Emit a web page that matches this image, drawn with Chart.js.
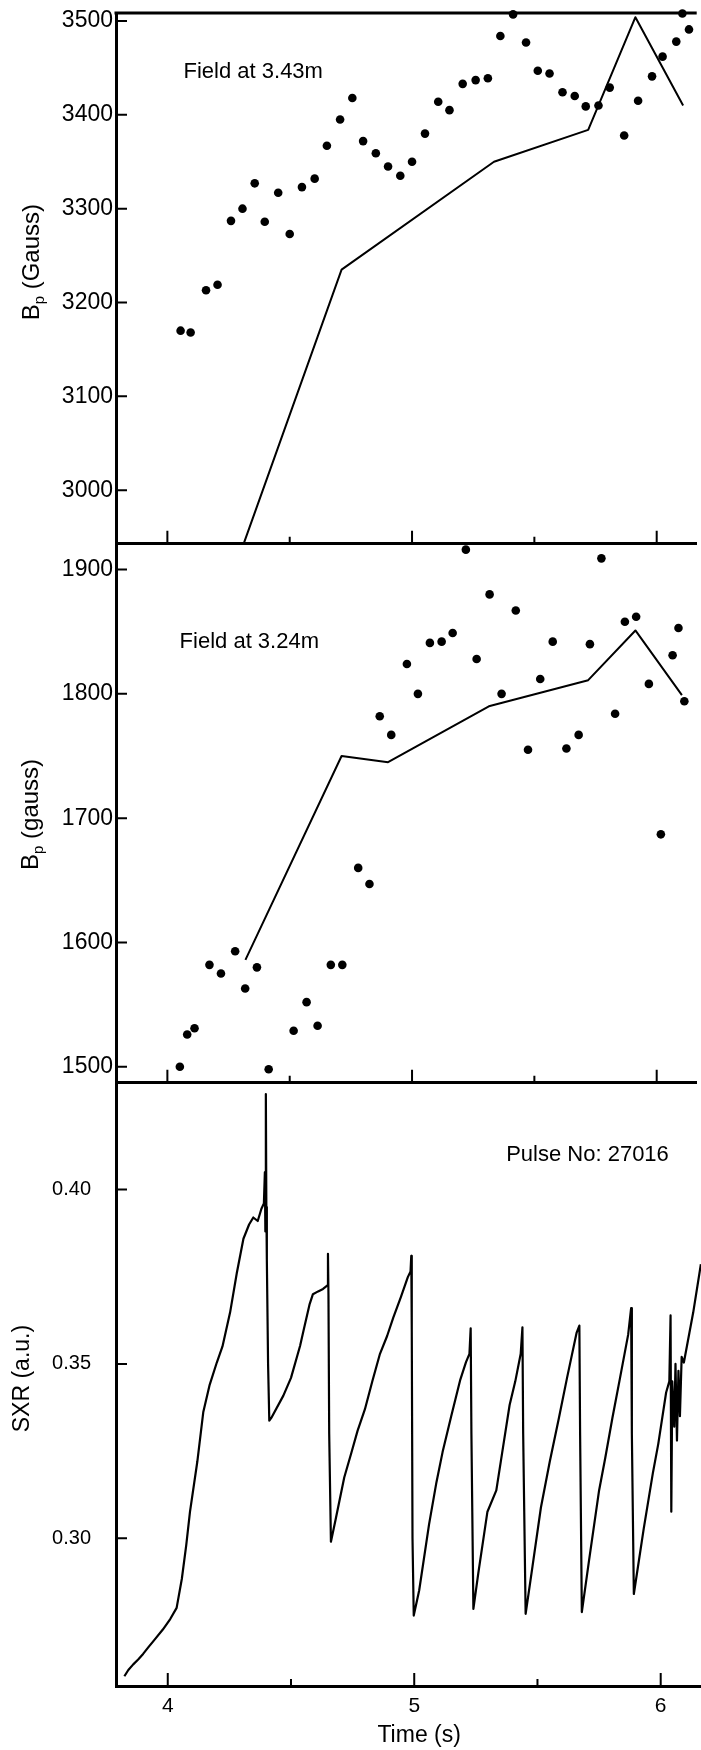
<!DOCTYPE html>
<html>
<head>
<meta charset="utf-8">
<title>Pulse 27016 - Bp and SXR</title>
<script src="https://cdn.jsdelivr.net/npm/chart.js@4.4.1/dist/chart.umd.min.js"></script>
<style>
  html, body { margin: 0; padding: 0; background: #fff; }
  #wrap { position: relative; width: 701px; height: 1750px; overflow: hidden; }
  #wrap canvas { position: absolute; left: 0; }
</style>
</head>
<body>
<div id="wrap">
  <canvas id="chartTop" width="701" height="548" style="top:0px"></canvas>
  <canvas id="chartMid" width="701" height="545" style="top:542px"></canvas>
  <canvas id="chartSxr" width="701" height="669" style="top:1081px"></canvas>
</div>
<script>
// Field at 3.43m - line (fit) and dots (measured)
const topLineTime = [4.312, 4.712, 5.335, 5.720, 5.913, 6.108];
const topLineField = [2943, 3235, 3350, 3384, 3504, 3410];
const topDotTime = [4.054, 4.095, 4.158, 4.205, 4.260, 4.307, 4.357, 4.398, 4.453, 4.500, 4.550, 4.602, 4.652, 4.706, 4.756,
  4.800, 4.852, 4.902, 4.952, 5.000, 5.053, 5.107, 5.153, 5.207, 5.260, 5.310, 5.361, 5.413, 5.466, 5.514,
  5.562, 5.615, 5.665, 5.710, 5.762, 5.808, 5.867, 5.924, 5.981, 6.024, 6.080, 6.105, 6.132];
const topDotField = [3170, 3168, 3213, 3219, 3287, 3300, 3327, 3286, 3317, 3273, 3323, 3332, 3367, 3395, 3418,
  3372, 3359, 3345, 3335, 3350, 3380, 3414, 3405, 3433, 3437, 3439, 3484, 3507, 3477, 3447,
  3444, 3424, 3420, 3409, 3410, 3429, 3378, 3415, 3441, 3462, 3478, 3508, 3491];

// Field at 3.24m
const midLineTime = [4.319, 4.712, 4.902, 5.314, 5.720, 5.913, 6.103];
const midLineField = [1586, 1750, 1745, 1790, 1811, 1851, 1799];
const midDotTime = [4.051, 4.081, 4.111, 4.172, 4.219, 4.277, 4.318, 4.366, 4.414, 4.516, 4.569, 4.614, 4.668, 4.715, 4.780,
  4.826, 4.868, 4.915, 4.979, 5.024, 5.073, 5.121, 5.166, 5.220, 5.264, 5.317, 5.366, 5.424, 5.474, 5.524,
  5.575, 5.631, 5.681, 5.727, 5.774, 5.830, 5.870, 5.916, 5.968, 6.017, 6.065, 6.089, 6.113];
const midDotField = [1500, 1526, 1531, 1582, 1575, 1593, 1563, 1580, 1498, 1529, 1552, 1533, 1582, 1582, 1660,
  1647, 1782, 1767, 1824, 1800, 1841, 1842, 1849, 1916, 1828, 1880, 1800, 1867, 1755, 1812,
  1842, 1756, 1767, 1840, 1909, 1784, 1858, 1862, 1808, 1687, 1831, 1853, 1794];

// SXR trace
const sxrTime = [3.824, 3.840, 3.860, 3.880, 3.900, 3.920, 3.950, 3.980, 4.010, 4.036,
  4.057, 4.075, 4.090, 4.120, 4.144, 4.170, 4.199, 4.222, 4.253, 4.280,
  4.307, 4.330, 4.347, 4.365, 4.380, 4.390, 4.394, 4.396, 4.398, 4.400,
  4.402, 4.407, 4.412, 4.420, 4.469, 4.500, 4.537, 4.553, 4.575, 4.589,
  4.610, 4.630, 4.648, 4.650, 4.652, 4.655, 4.662, 4.680, 4.716, 4.745,
  4.770, 4.800, 4.830, 4.861, 4.890, 4.915, 4.945, 4.974, 4.985, 4.988,
  4.990, 4.993, 4.998, 5.020, 5.060, 5.090, 5.115, 5.150, 5.187, 5.210,
  5.224, 5.229, 5.232, 5.240, 5.260, 5.297, 5.333, 5.360, 5.387, 5.410,
  5.432, 5.439, 5.442, 5.452, 5.480, 5.514, 5.550, 5.587, 5.620, 5.659,
  5.670, 5.673, 5.680, 5.710, 5.750, 5.775, 5.804, 5.835, 5.868, 5.880,
  5.883, 5.891, 5.931, 5.968, 5.990, 6.022, 6.035, 6.040, 6.043, 6.047,
  6.055, 6.060, 6.066, 6.072, 6.078, 6.085, 6.094, 6.132, 6.163];
const sxrValue = [0.2604, 0.2622, 0.2638, 0.2652, 0.2668, 0.2686, 0.2712, 0.2738, 0.2768, 0.2800,
  0.2883, 0.2980, 0.3075, 0.3220, 0.3361, 0.3440, 0.3504, 0.3550, 0.3648, 0.3760,
  0.3859, 0.3900, 0.3920, 0.3910, 0.3945, 0.3960, 0.4050, 0.3880, 0.4274, 0.3950,
  0.3800, 0.3500, 0.3337, 0.3345, 0.3409, 0.3460, 0.3552, 0.3602, 0.3670, 0.3700,
  0.3708, 0.3715, 0.3725, 0.3816, 0.3700, 0.3300, 0.2990, 0.3050, 0.3174, 0.3245,
  0.3308, 0.3370, 0.3450, 0.3529, 0.3580, 0.3633, 0.3690, 0.3749, 0.3765, 0.3810,
  0.3600, 0.3000, 0.2778, 0.2850, 0.3039, 0.3160, 0.3247, 0.3350, 0.3455, 0.3505,
  0.3529, 0.3602, 0.3300, 0.2797, 0.2900, 0.3076, 0.3137, 0.3260, 0.3382, 0.3450,
  0.3529, 0.3605, 0.3300, 0.2783, 0.2920, 0.3088, 0.3220, 0.3345, 0.3460, 0.3590,
  0.3610, 0.3300, 0.2788, 0.2940, 0.3137, 0.3230, 0.3345, 0.3460, 0.3584, 0.3660,
  0.3300, 0.2840, 0.3027, 0.3186, 0.3270, 0.3418, 0.3450, 0.3639, 0.3076, 0.3450,
  0.3320, 0.3500, 0.3280, 0.3480, 0.3350, 0.3520, 0.3504, 0.3648, 0.3786];

// tick marks along the time axis
const timeTicks = [4, 4.5, 5, 5.5, 6];

const FONT = "'Liberation Sans', Arial, Helvetica, sans-serif";

function toPoints(xs, ys) {
  return xs.map((x, i) => ({ x: x, y: ys[i] }));
}

// inward tick marks, top frame line, axis titles and the note in each panel
const axisMarks = {
  id: 'axisMarks',
  afterDatasetsDraw(chart, args, opts) {
    const ctx = chart.ctx;
    const a = chart.chartArea;
    const xs = chart.scales.x;
    const ys = chart.scales.y;
    ctx.save();
    ctx.strokeStyle = '#000';
    ctx.fillStyle = '#000';
    ctx.lineWidth = 2;
    ctx.beginPath();
    ys.ticks.forEach(function(t) {
      const py = ys.getPixelForValue(t.value);
      ctx.moveTo(a.left, py);
      ctx.lineTo(a.left + 11, py);
    });
    timeTicks.forEach(function(v) {
      const px = xs.getPixelForValue(v);
      const len = Number.isInteger(v) ? 13 : 7;
      ctx.moveTo(px, a.bottom);
      ctx.lineTo(px, a.bottom - len);
    });
    ctx.stroke();

    if (opts.topLine) {
      ctx.lineWidth = 3;
      ctx.beginPath();
      ctx.moveTo(a.left - 1.5, a.top);
      ctx.lineTo(a.right, a.top);
      ctx.stroke();
    }

    if (opts.note) {
      ctx.font = '22px ' + FONT;
      ctx.textAlign = 'left';
      ctx.textBaseline = 'middle';
      ctx.fillText(opts.note.text, xs.getPixelForValue(opts.note.x), ys.getPixelForValue(opts.note.y));
    }

    // y title, rotated, with optional subscript
    const yt = opts.yTitle;
    if (yt) {
      const big = yt.size + 'px ' + FONT;
      const small = Math.round(yt.size * 0.62) + 'px ' + FONT;
      ctx.font = big;
      const wMain = ctx.measureText(yt.main).width;
      const wRest = yt.rest ? ctx.measureText(yt.rest).width : 0;
      ctx.font = small;
      const wSub = yt.sub ? ctx.measureText(yt.sub).width : 0;
      let cx = -(wMain + wSub + wRest) / 2;
      ctx.translate(yt.x, ys.getPixelForValue(yt.y));
      ctx.rotate(-Math.PI / 2);
      ctx.textAlign = 'left';
      ctx.textBaseline = 'middle';
      ctx.font = big;
      ctx.fillText(yt.main, cx, 0);
      cx += wMain;
      if (yt.sub) {
        ctx.font = small;
        ctx.fillText(yt.sub, cx, yt.size * 0.32);
        cx += wSub;
        ctx.font = big;
        ctx.fillText(yt.rest, cx, 0);
      }
      ctx.setTransform(1, 0, 0, 1, 0, 0);
    }

    if (opts.xTitle) {
      ctx.font = '23px ' + FONT;
      ctx.textAlign = 'center';
      ctx.textBaseline = 'middle';
      ctx.fillText(opts.xTitle.text, xs.getPixelForValue(opts.xTitle.x), a.bottom + 50);
    }
    ctx.restore();
  }
};

function makeChart(id, cfg) {
  const ctx = document.getElementById(id).getContext('2d');
  return new Chart(ctx, {
    type: 'scatter',
    data: { datasets: cfg.datasets },
    options: {
      responsive: false,
      animation: false,
      events: [],
      layout: { padding: cfg.padding },
      plugins: {
        legend: { display: false },
        tooltip: { enabled: false },
        axisMarks: { topLine: cfg.topLine, note: cfg.note, yTitle: cfg.yTitle, xTitle: cfg.xTitle }
      },
      scales: {
        x: {
          type: 'linear',
          min: 3.79,
          max: 6.1635,
          grid: { display: false, drawTicks: false },
          border: { display: true, color: '#000', width: 3 },
          ticks: {
            display: cfg.showTime,
            stepSize: 1,
            includeBounds: false,
            padding: 8,
            color: '#000',
            font: { family: FONT, size: 21 }
          },
          afterFit(scale) {
            scale.height = cfg.showTime ? 64 : 0;
            scale.paddingLeft = 0;
            scale.paddingRight = 0;
          }
        },
        y: {
          type: 'linear',
          min: cfg.yMin,
          max: cfg.yMax,
          grid: { display: false, drawTicks: false },
          border: { display: true, color: '#000', width: 3 },
          ticks: {
            stepSize: cfg.yStep,
            includeBounds: false,
            padding: cfg.labelPad,
            color: '#000',
            font: { family: FONT, size: cfg.tickSize },
            callback: cfg.fmt
          },
          afterFit(scale) {
            scale.width = 116;
            scale.paddingTop = 0;
            scale.paddingBottom = 0;
          }
        }
      }
    },
    plugins: [axisMarks]
  });
}

function dotSet(xs, ys) {
  return {
    data: toPoints(xs, ys),
    showLine: false,
    pointRadius: 4.3,
    pointBorderWidth: 0,
    pointBackgroundColor: '#000',
    clip: false
  };
}

function lineSet(xs, ys, width) {
  return {
    data: toPoints(xs, ys),
    showLine: true,
    borderColor: '#000',
    borderWidth: width,
    borderJoinStyle: 'round',
    pointRadius: 0,
    tension: 0
  };
}

makeChart('chartTop', {
  datasets: [lineSet(topLineTime, topLineField, 2), dotSet(topDotTime, topDotField)],
  padding: { top: 13, bottom: 3, left: 0, right: 0 },
  topLine: true,
  note: { text: 'Field at 3.43m', x: 4.066, y: 3446 },
  showTime: false,
  yMin: 2943, yMax: 3508.5, yStep: 100,
  labelPad: 3, tickSize: 23,
  fmt: v => String(v),
  yTitle: { main: 'B', sub: 'p', rest: ' (Gauss)', x: 32, y: 3243, size: 24 }
});

makeChart('chartMid', {
  datasets: [lineSet(midLineTime, midLineField, 2), dotSet(midDotTime, midDotField)],
  padding: { top: 3, bottom: 3, left: 0, right: 0 },
  topLine: false,
  note: { text: 'Field at 3.24m', x: 4.05, y: 1842 },
  showTime: false,
  yMin: 1487.2, yMax: 1918.7, yStep: 100,
  labelPad: 3, tickSize: 23,
  fmt: v => String(v),
  yTitle: { main: 'B', sub: 'p', rest: ' (gauss)', x: 31, y: 1703, size: 24 }
});

makeChart('chartSxr', {
  datasets: [lineSet(sxrTime, sxrValue, 2.2)],
  padding: { top: 3, bottom: 0, left: 0, right: 0 },
  topLine: false,
  note: { text: 'Pulse No: 27016', x: 5.373, y: 0.41 },
  showTime: true,
  xTitle: { text: 'Time (s)', x: 5.02 },
  yMin: 0.2576, yMax: 0.4303, yStep: 0.05,
  labelPad: 25, tickSize: 20,
  fmt: v => v.toFixed(2),
  yTitle: { main: 'SXR (a.u.)', x: 23, y: 0.3458, size: 23 }
});
</script>
</body>
</html>
